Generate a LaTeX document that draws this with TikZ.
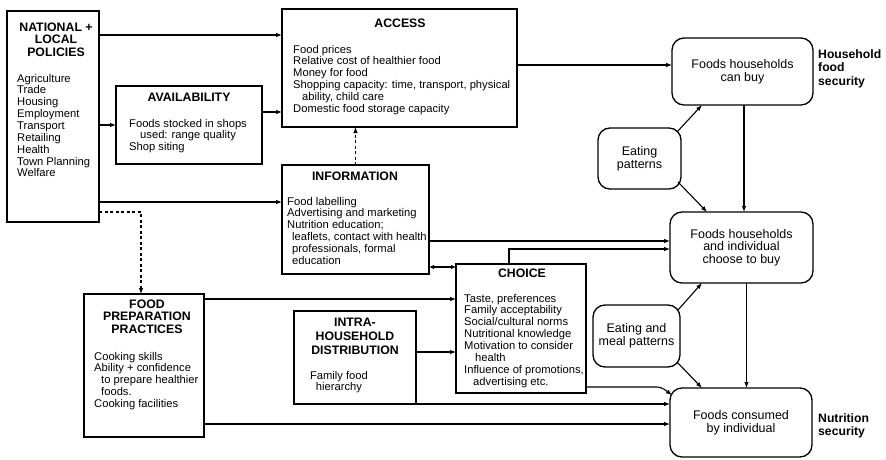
\documentclass[tikz,border=0pt]{standalone}
\usepackage{fontspec}
\setmainfont{Liberation Sans}
\usetikzlibrary{arrows.meta,calc}
\tikzset{
  box/.style={draw, line width=1.3pt, inner sep=0pt, outer sep=0pt, anchor=north west},
  rbox/.style={draw, line width=1.3pt, rounded corners=12pt, inner sep=0pt, outer sep=0pt, align=center, font=\fontsize{12.5}{12.6}\selectfont},
  body/.style={inner sep=0pt, anchor=north west, align=left, font=\fontsize{11.2}{11.85}\selectfont},
  ttl/.style={inner sep=0pt, anchor=north, align=center, font=\fontsize{12.3}{12.6}\selectfont\bfseries},
  lbl/.style={inner sep=0pt, anchor=north west, align=left, font=\fontsize{12.2}{13.2}\selectfont\bfseries},
  arr/.style={line width=1.1pt, -{Latex[length=6pt,width=4.6pt]}},
  darr/.style={arr, dash pattern=on 3pt off 2.5pt},
}
\begin{document}
\begin{tikzpicture}[x=1pt,y=-1pt]
\useasboundingbox (0,0) rectangle (886,460);
% helper levels
\foreach \v in {35,65,112,125,202,212,241,249,267,299,352,387,424}{\coordinate (y\v) at (0,\v);}
% boxes
\node[box, minimum width=92pt, minimum height=211pt] (pol) at (7,11) {};
\node[ttl] (polT) at (56,22.6) {NATIONAL +\\LOCAL\\POLICIES};
\node[body] (polB) at (17,73.8) {Agriculture\\Trade\\Housing\\Employment\\Transport\\Retailing\\Health\\Town Planning\\Welfare};

\node[box, minimum width=235pt, minimum height=118pt] (acc) at (282,9) {};
\node[ttl] (accT) at (400,18.6) {ACCESS};
\node[body] (accB) at (293,44.8) {Food prices\\Relative cost of healthier food\\Money for food\\Shopping capacity: time, transport, physical\\\hspace*{9pt}ability, child care\\Domestic food storage capacity};

\node[box, minimum width=146pt, minimum height=78pt] (avl) at (116,86) {};
\node[ttl] (avlT) at (189,92.6) {AVAILABILITY};
\node[body] (avlB) at (129,118.8) {Foods stocked in shops\\\hspace*{11pt}used: range quality\\Shop siting};

\node[box, minimum width=147pt, minimum height=109pt] (inf) at (282,165) {};
\node[ttl] (infT) at (355,171.6) {INFORMATION};
\node[body] (infB) at (287,196.8) {Food labelling\\Advertising and marketing\\Nutrition education;\\\hspace*{5pt}leaflets, contact with health\\\hspace*{5pt}professionals, formal\\\hspace*{5pt}education};

\node[box, minimum width=130pt, minimum height=129pt] (cho) at (456,264) {};
\node[ttl] (choT) at (522,268.6) {CHOICE};
\node[body] (choB) at (464,293.8) {Taste, preferences\\Family acceptability\\Social/cultural norms\\Nutritional knowledge\\Motivation to consider\\\hspace*{11pt}health\\Influence of promotions,\\\hspace*{9pt}advertising etc.};

\node[box, minimum width=120pt, minimum height=143pt] (fpp) at (84,294) {};
\node[ttl] (fppT) at (147,299.6) {FOOD\\PREPARATION\\PRACTICES};
\node[body] (fppB) at (94,351.8) {Cooking skills\\Ability + confidence\\\hspace*{7pt}to prepare healthier\\\hspace*{7pt}foods.\\Cooking facilities};

\node[box, minimum width=122pt, minimum height=93pt] (ihd) at (294,311) {};
\node[ttl, font=\fontsize{12.3}{14}\selectfont\bfseries] (ihdT) at (355,317.4) {INTRA-\\HOUSEHOLD\\DISTRIBUTION};
\node[body, anchor=north, align=center] (ihdB) at (339,370.8) {Family food\\hierarchy};

% rounded outcome boxes
\node[rbox, minimum width=141pt, minimum height=67pt] (buy) at (742.5,71.5) {Foods households\\can buy};
\node[rbox, minimum width=83pt, minimum height=61pt] (eat1) at (639.5,158.5) {Eating\\patterns};
\node[rbox, minimum width=143pt, minimum height=71pt] (chs) at (741.5,247.5) {Foods households\\and individual\\choose to buy};
\node[rbox, minimum width=87pt, minimum height=62pt] (eat2) at (636.5,336) {Eating and\\meal patterns};
\node[rbox, minimum width=142pt, minimum height=69pt] (con) at (741,422.5) {Foods consumed\\by individual};

\node[lbl] (hfs) at (818,49.6) {Household\\food\\security};
\node[lbl] (nsec) at (818,413.6) {Nutrition\\security};

% connectors
\draw[arr] (pol.east |- y35) -- (acc.west |- y35);
\draw[arr] (pol.east |- y125) -- (avl.west |- y125);
\draw[arr] (avl.east |- y112) -- (acc.west |- y112);
\draw[arr] (pol.east |- y202) -- (inf.west |- y202);
\draw[darr] (pol.east |- y212) -| ($(fpp.north)+(-3,0)$);
\draw[darr] (inf.north) -- (inf.north |- acc.south);
\draw[arr] (acc.east |- y65) -- (buy.west |- y65);
\draw[arr] ($(eat1.north east)+(-4,4)$) -- ($(buy.south west)+(30,0)$);
\draw[arr] ($(eat1.south east)+(-3,-7)$) -- ($(chs.north west)+(37,0)$);
\draw[arr] ($(buy.south)+(1.5,0)$) -- ($(buy.south |- chs.north)+(1.5,0)$);
\draw[arr] ($(chs.south)+(5,0)$) -- ($(chs.south |- con.north)+(5,0)$);
\draw[arr] (inf.east |- y241) -- (chs.west |- y241);
\draw[arr] ($(cho.north west)+(53,0)$) |- (chs.west |- y249);
\draw[line width=1.1pt, {Latex[length=5pt,width=4.6pt]}-{Latex[length=5pt,width=4.6pt]}] (inf.east |- y267) -- (cho.west |- y267);
\draw[arr] (fpp.east |- y299) -- (cho.west |- y299);
\draw[arr] (ihd.east |- y352) -- (cho.west |- y352);
\draw[arr] (ihd.south east) -- (con.west |- ihd.south east);
\draw[arr] (fpp.east |- y424) -- (con.west |- y424);
\draw[arr, rounded corners=4pt] (cho.east |- y387) -- ($(con.north west)+(-9,-1)$) -- ($(con.north west)+(2,7)$);
\draw[arr] ($(eat2.north east)+(-2,5)$) -- ($(chs.south west)+(32,0)$);
\draw[arr] ($(eat2.south east)+(-3,-5)$) -- ($(con.north west)+(32,0)$);
\end{tikzpicture}
\end{document}
